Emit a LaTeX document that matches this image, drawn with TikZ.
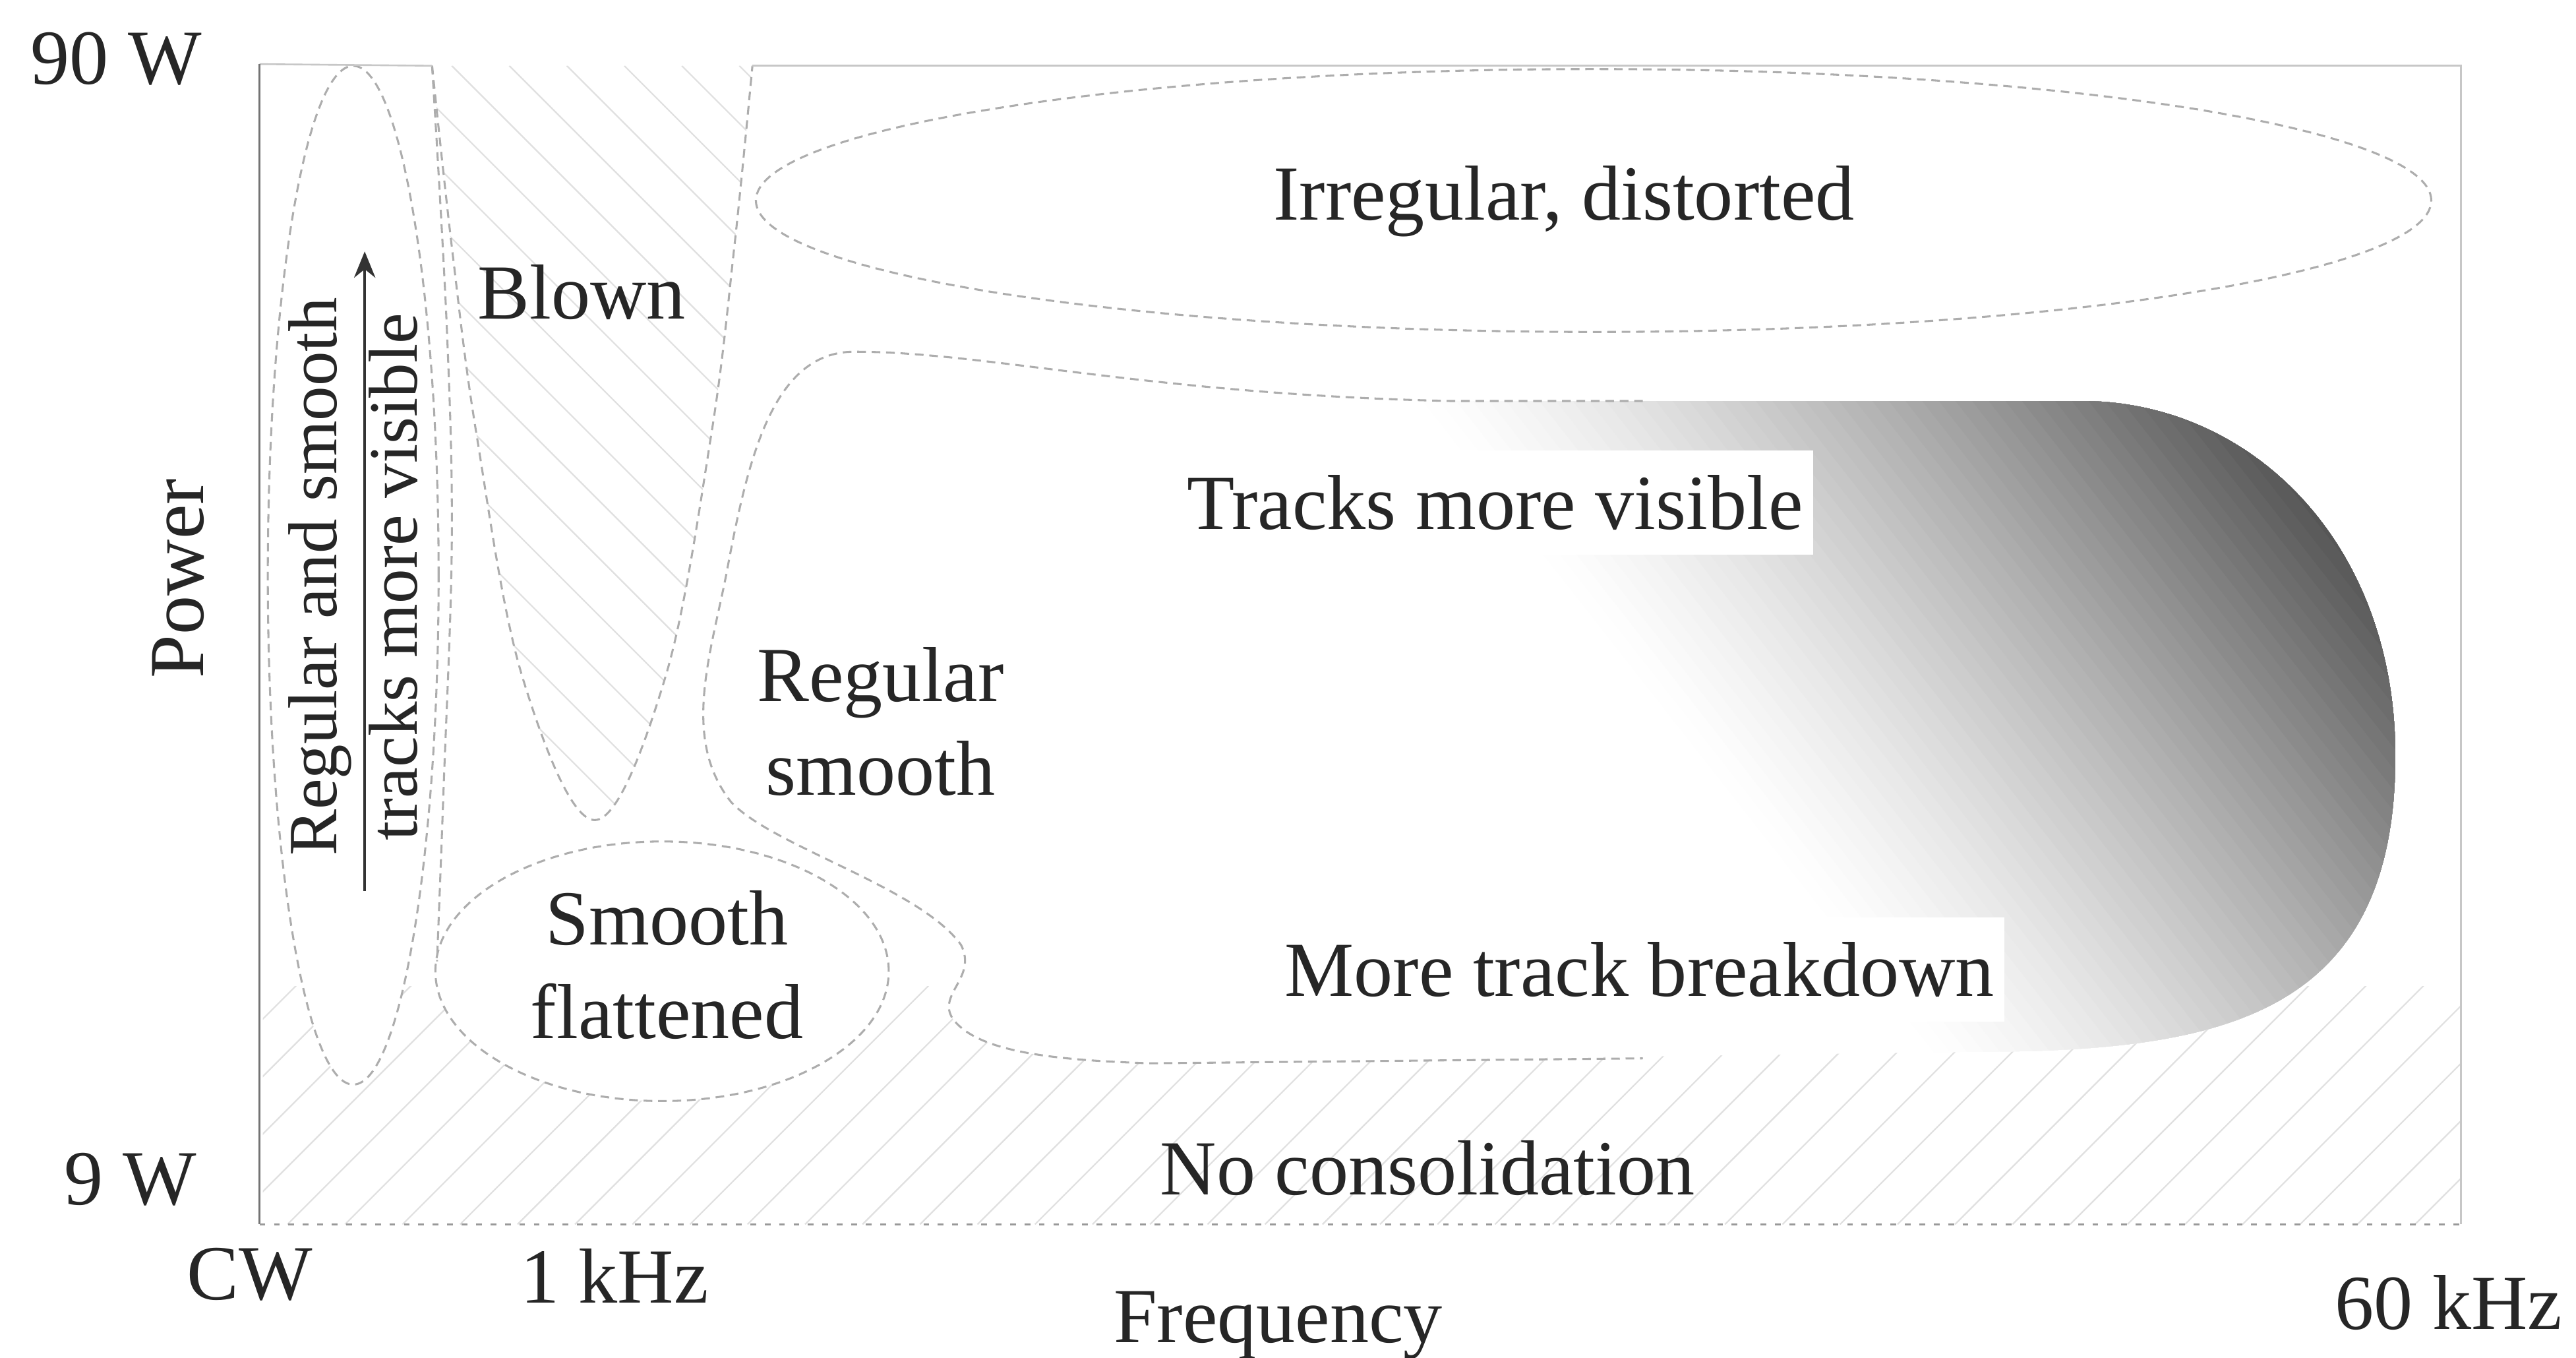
\documentclass[tikz,border=0pt]{standalone}
\usepackage{fontspec}
\setmainfont{Liberation Serif}
\usetikzlibrary{shapes.geometric,arrows.meta}

% outline of the large "regular smooth" region (screen-like coordinates, y grows downward)
\def\bigregionpath{(1267,244) -- (883,244)
  .. controls (700,240) and (600,214) .. (520,214)
  .. controls (470,214) and (455,280) .. (442,350)
  .. controls (432,400) and (415,450) .. (445,488)
  .. controls (470,515) and (560,540) .. (585,575)
  .. controls (595,595) and (570,605) .. (580,620)
  .. controls (595,640) and (640,645) .. (700,647)
  -- (1200,640)
  .. controls (1350,640) and (1458,620) .. (1458,460)
  .. controls (1458,330) and (1370,244) .. (1267,244) -- cycle}

% the "Blown" pocket between the low-frequency columns
\def\blownpath{plot[smooth, tension=0.6] coordinates {(263,40) (275,150) (290,264) (318,412) (362,499) (405,412) (433,264) (447,150) (458,40)}}

\begin{document}
\begin{tikzpicture}[x=0.02cm, y=-0.02cm,
  zone/.style={draw=black!32, line width=0.7pt, dash pattern=on 3pt off 2pt},
  txt/.style={text=black!85, font=\fontsize{27}{32.4}\selectfont, inner sep=0pt},
  smalltxt/.style={text=black!85, font=\fontsize{24}{28}\selectfont, inner sep=0pt},
  hatchline/.style={draw=black!12, line width=0.5pt},
  frame/.style={draw=black!22, line width=0.6pt},
]
\path[fill=white] (0,0) rectangle (1568,826);
\useasboundingbox (0,0) rectangle (1568,826);

% hatching: "no consolidation" band
\begin{scope}
  \clip (160,600) rectangle (1498,745);
  \foreach \c in {-560,-525,...,1500}
    \draw[hatchline] (\c,745) -- (\c+705,40);
\end{scope}
% hatching: "blown" pocket
\begin{scope}
  \clip \blownpath -- cycle;
  \foreach \c in {-460,-425,...,470}
    \draw[hatchline] (\c,40) -- (\c+705,745);
\end{scope}

% regions with white interiors
\node[ellipse, zone, fill=white, minimum width=2.08cm, minimum height=12.4cm, inner sep=0pt] (tall) at (215,350) {};
\node[ellipse, zone, fill=white, minimum width=5.52cm, minimum height=3.16cm, inner sep=0pt] (flat) at (403,591) {};
\node[ellipse, zone, minimum width=20.4cm, minimum height=3.2cm, inner sep=0pt] (irr) at (970,122) {};

\path[fill=white] \bigregionpath;
% diagonal grey fade towards the high-frequency, high-power corner
\begin{scope}
  \clip \bigregionpath;
  \foreach \s in {525,533,...,941} {
    \pgfmathsetmacro\pct{68*(min(1,(\s-525)/400))^1.35}
    \fill[black!\pct] ({(\s+0.62*150)/0.79},150) -- ({(\s+0.62*700)/0.79},700) -- (1800,700) -- (1800,150) -- cycle;
  }
\end{scope}
\draw[zone] (1000,244) -- (883,244)
  .. controls (700,240) and (600,214) .. (520,214)
  .. controls (470,214) and (455,280) .. (442,350)
  .. controls (432,400) and (415,450) .. (445,488)
  .. controls (470,515) and (560,540) .. (585,575)
  .. controls (595,595) and (570,605) .. (580,620)
  .. controls (595,640) and (640,645) .. (700,647)
  -- (1000,644);

% borders of the "blown" pocket and the CW column
\draw[zone] \blownpath;
\draw[zone] plot[smooth, tension=0.6] coordinates {(263,40) (272,200) (275,330) (270,480) (266,585)};

% axes and frame
\coordinate (ytop) at (158,39);
\coordinate (origin) at (158,745);
\coordinate (xend) at (1498,745);
\coordinate (ftopl) at (263,40);
\coordinate (ftopm) at (458,40);
\coordinate (ftopr) at (1498,40);
\draw[frame] (ytop) -- (ftopl);
\draw[frame] (ftopm) -- (ftopr) -- (xend);
\draw[black!55, line width=0.8pt] (ytop) -- (origin);
\draw[black!40, line width=0.8pt, dash pattern=on 2pt off 3pt] (origin) -- (xend);

% axis labels
\node[txt, anchor=base east] (p90) at (123,51) {90 W};
\node[txt, anchor=base east] (p9) at (120,733) {9 W};
\node[txt, anchor=base] (fcw) at (152,791) {CW};
\node[txt, anchor=base] (f1k) at (374,793) {1 kHz};
\node[txt, anchor=base] (fax) at (778,817) {Frequency};
\node[txt, anchor=base west] (f60) at (1421,809) {60 kHz};
\node[txt, anchor=base, rotate=90] (pax) at (124,352) {Power};

% region labels
\node[txt, anchor=base] (blown) at (354,194) {Blown};
\node[txt, anchor=base] (irrtxt) at (952,134) {Irregular, distorted};
\node[txt, align=center] (regsm) at (536,439) {Regular\\smooth};
\node[txt, fill=white, inner xsep=0.12cm, inner ysep=0.3cm, anchor=base] (tracks) at (910,322) {Tracks more visible};
\node[txt, fill=white, inner xsep=0.12cm, inner ysep=0.3cm, anchor=base] (breakdown) at (998,606) {More track breakdown};
\node[txt, align=center] (smfl) at (406,587) {Smooth\\flattened};
\node[txt, anchor=base] (nocons) at (869,727) {No consolidation};

% CW column: rotated labels with the trend arrow between them
\node[smalltxt, anchor=base, rotate=90] (cwa) at (205,351) {Regular and smooth};
\node[smalltxt, anchor=base, rotate=90] (cwb) at (254,351) {tracks more visible};
\coordinate (arrlow) at (222,542);
\coordinate (arrtip) at (222,153);
\draw[black!80, line width=0.8pt, -{Stealth[length=0.32cm, width=0.26cm]}] (arrlow) -- (arrtip);
\end{tikzpicture}
\end{document}
